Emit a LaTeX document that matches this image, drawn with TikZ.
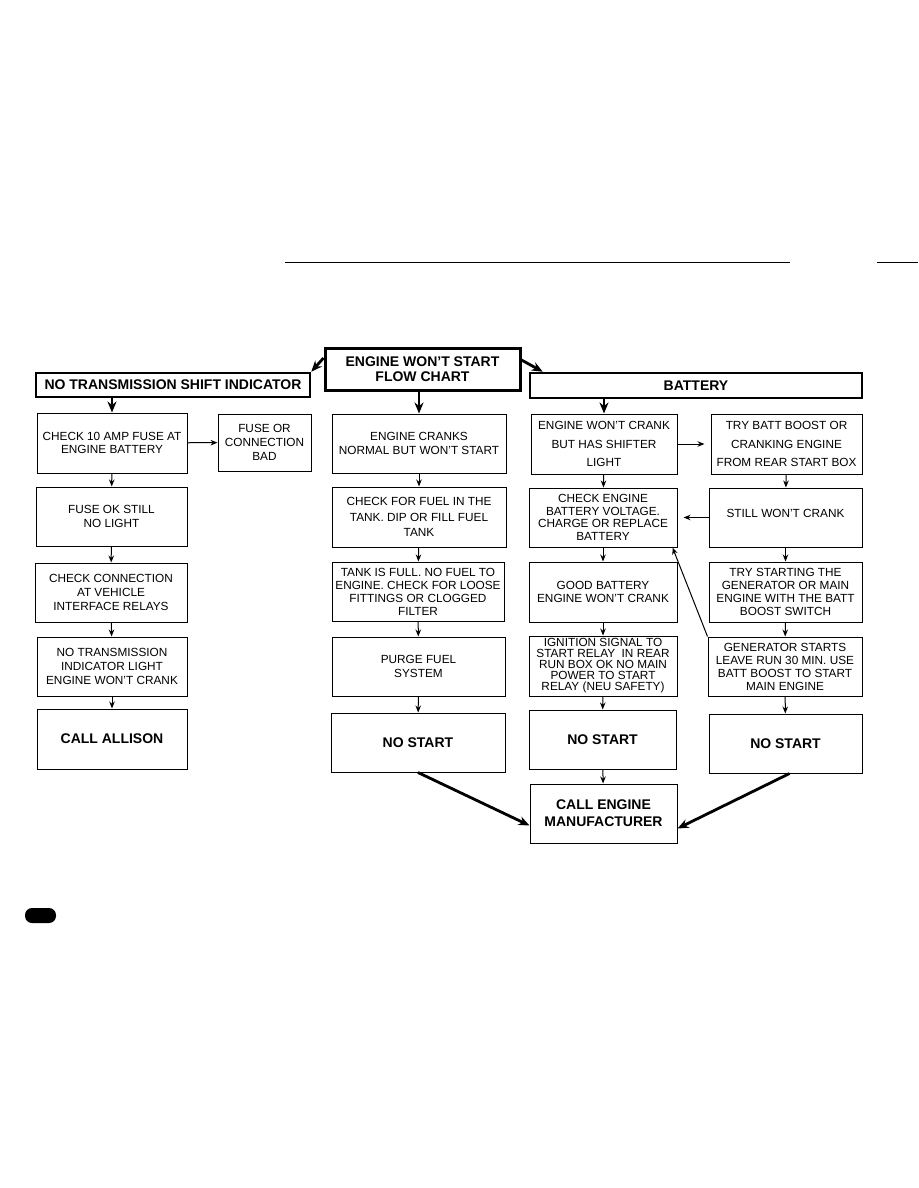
\documentclass[tikz,border=0pt]{standalone}
\usepackage{fontspec}
\setmainfont{Liberation Sans}
\usetikzlibrary{arrows.meta}

\begin{document}
\begin{tikzpicture}[x=1pt, y=-1pt, line width=1.0pt, line cap=butt, line join=miter,
  box/.style={draw, line width=1.0pt, inner sep=2pt, align=center, font=\fontsize{11.8}{13.8}\selectfont},
  endbox/.style={box, font=\fontsize{14}{17}\selectfont\bfseries},
  hdr/.style={draw, line width=2.5pt, inner sep=2pt, align=center, font=\fontsize{14}{15.5}\selectfont\bfseries},
  flow/.style={line width=1.0pt, -{Stealth[length=7pt,width=5.5pt]}},
  bigflow/.style={line width=2.8pt, -{Stealth[length=11pt,width=9pt]}}]

  %% ════ 页眉线 ════
  \draw[line width=1.0pt] (285,262) -- (790,262);
  \draw[line width=1.0pt] (877,262) -- (918,262);

  %% ════ 标题框 ════
  \node[hdr, minimum width=274, minimum height=24] (hdrtrans) at (173,385) {NO TRANSMISSION SHIFT INDICATOR};
  \node[hdr, line width=3.0pt, minimum width=195, minimum height=42] (hdrengine) at (422.5,369) {ENGINE WON'T START\\FLOW CHART};
  \node[hdr, minimum width=332, minimum height=25] (hdrbatt) at (696,385.5) {BATTERY};

  %% ════ 第一列 ════
  \node[box, minimum width=150, minimum height=60] (fuse) at (112,443) {CHECK 10 AMP FUSE AT\\ENGINE BATTERY};
  \node[box, minimum width=93, minimum height=57] (fusebad) at (264.5,442.5) {FUSE OR\\CONNECTION\\BAD};
  \node[box, minimum width=151, minimum height=59] (fuseok) at (111.5,516.5) {FUSE OK STILL\\NO LIGHT};
  \node[box, minimum width=152, minimum height=59] (relays) at (111,592.5) {CHECK CONNECTION\\AT VEHICLE\\INTERFACE RELAYS};
  \node[box, minimum width=150, minimum height=59] (noind) at (112,666.5) {NO TRANSMISSION\\INDICATOR LIGHT\\ENGINE WON'T CRANK};
  \node[endbox, minimum width=150, minimum height=60] (allison) at (112,739) {CALL ALLISON};

  %% ════ 第二列 ════
  \node[box, minimum width=174, minimum height=59] (cranks) at (419,443.5) {ENGINE CRANKS\\NORMAL BUT WON'T START};
  \node[box, minimum width=174, minimum height=60, font=\fontsize{11.8}{15.5}\selectfont] (fuel) at (419,517) {CHECK FOR FUEL IN THE\\TANK. DIP OR FILL FUEL\\TANK};
  \node[box, minimum width=172, minimum height=59, font=\fontsize{11.8}{13}\selectfont] (tankfull) at (418,591.5) {TANK IS FULL. NO FUEL TO\\ENGINE. CHECK FOR LOOSE\\FITTINGS OR CLOGGED\\FILTER};
  \node[box, minimum width=173, minimum height=59] (purge) at (418.5,666.5) {PURGE FUEL\\SYSTEM};
  \node[endbox, minimum width=174, minimum height=59] (nostartb) at (418,742.5) {NO START};

  %% ════ 第三列 ════
  \node[box, minimum width=146, minimum height=60, font=\fontsize{11.8}{18.5}\selectfont] (nocrank) at (604,444) {ENGINE WON'T CRANK\\BUT HAS SHIFTER\\LIGHT};
  \node[box, minimum width=148, minimum height=59, font=\fontsize{11.8}{12.5}\selectfont] (battv) at (603,517.5) {CHECK ENGINE\\BATTERY VOLTAGE.\\CHARGE OR REPLACE\\BATTERY};
  \node[box, minimum width=148, minimum height=60] (goodbatt) at (603,592) {GOOD BATTERY\\ENGINE WON'T CRANK};
  \node[box, minimum width=148, minimum height=60, font=\fontsize{11.8}{11}\selectfont] (ignition) at (603,666) {IGNITION SIGNAL TO\\START RELAY\ \ IN REAR\\RUN BOX OK NO MAIN\\POWER TO START\\RELAY (NEU SAFETY)};
  \node[endbox, minimum width=147, minimum height=59] (nostartc) at (602.5,739.5) {NO START};

  %% ════ 第四列 ════
  \node[box, minimum width=151, minimum height=60, font=\fontsize{11.8}{18.5}\selectfont] (boost) at (786.5,444) {TRY BATT BOOST OR\\CRANKING ENGINE\\FROM REAR START BOX};
  \node[box, minimum width=153, minimum height=59, text depth=8pt] (stillno) at (785.5,517.5) {STILL WON'T CRANK};
  \node[box, minimum width=153, minimum height=60, font=\fontsize{11.8}{13}\selectfont] (trygen) at (785.5,592) {TRY STARTING THE\\GENERATOR OR MAIN\\ENGINE WITH THE BATT\\BOOST SWITCH};
  \node[box, minimum width=154, minimum height=59, font=\fontsize{11.8}{13}\selectfont] (genstarts) at (785,666.5) {GENERATOR STARTS\\LEAVE RUN 30 MIN. USE\\BATT BOOST TO START\\MAIN ENGINE};
  \node[endbox, minimum width=153, minimum height=59] (nostartd) at (785.5,743.5) {NO START};

  %% ════ 底部 ════
  \node[endbox, minimum width=147, minimum height=59] (callmfr) at (603.5,813.5) {CALL ENGINE\\MANUFACTURER};

  %% ════ 粗箭头（标题）════
  \draw[bigflow] ([yshift=11pt]hdrengine.west) -- (hdrtrans.north east);
  \draw[bigflow] ([yshift=9pt]hdrengine.east) -- ([xshift=14pt]hdrbatt.north west);
  \draw[bigflow] (hdrtrans.south -| fuse.north) -- (fuse.north);
  \draw[bigflow] (hdrengine.south -| cranks.north) -- (cranks.north);
  \draw[bigflow] (hdrbatt.south -| nocrank.north) -- (nocrank.north);

  %% ════ 细箭头 ════
  \draw[flow] (fuse) -- (fusebad);
  \draw[flow] (fuse) -- (fuseok);
  \draw[flow] (fuseok) -- (relays);
  \draw[flow] (relays) -- (noind);
  \draw[flow] (noind) -- (allison);

  \draw[flow] (cranks) -- (fuel);
  \draw[flow] (fuel) -- (tankfull);
  \draw[flow] (tankfull) -- (purge);
  \draw[flow] (purge) -- (nostartb);

  \draw[flow] (nocrank) -- (battv);
  \draw[flow] (battv) -- (goodbatt);
  \draw[flow] (goodbatt) -- (ignition);
  \draw[flow] (ignition) -- (nostartc);
  \draw[flow] (nostartc) -- (callmfr);
  \draw[flow, shorten >=6pt] (nocrank) -- (boost);

  \draw[flow] (boost) -- (stillno);
  \draw[flow] (stillno) -- (trygen);
  \draw[flow] (trygen) -- (genstarts);
  \draw[flow] (genstarts) -- (nostartd);
  \draw[flow, shorten >=6pt] (stillno) -- (battv);
  \draw[flow] (genstarts.north west) -- ([xshift=-5pt]battv.south east);

  %% ════ 汇合箭头 ════
  \draw[bigflow] (nostartb.south) -- ([yshift=-12pt]callmfr.west);
  \draw[bigflow] ([xshift=4pt]nostartd.south) -- ([yshift=-15pt]callmfr.east);

  %% ════ 页码标签 ════
  \fill[rounded corners=7pt] (25,908) rectangle (56,923);

  % 钉死画布
  \pgfresetboundingbox
  \path[use as bounding box] (0,0) rectangle (918,1188);
\end{tikzpicture}
\end{document}
